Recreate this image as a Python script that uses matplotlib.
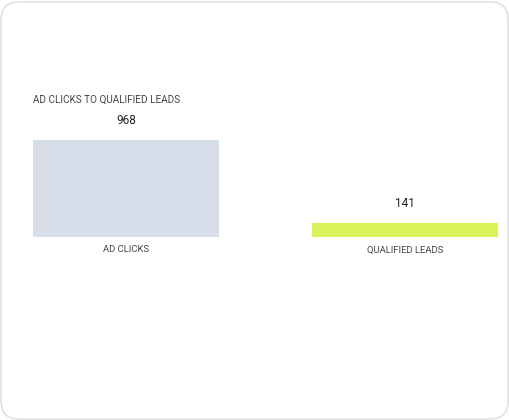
import matplotlib
matplotlib.use("Agg")
import matplotlib.pyplot as plt
from matplotlib.patches import FancyBboxPatch
from matplotlib import font_manager

categories = ["AD CLICKS", "QUALIFIED LEADS"]
values = [968, 141]
colors = ["#d8dee9", "#dbf35b"]
title = "AD CLICKS TO QUALIFIED LEADS"

names = {f.name for f in font_manager.fontManager.ttflist}
fam = "Roboto" if "Roboto" in names else "DejaVu Sans"

fig = plt.figure(figsize=(5.1, 4.2), dpi=100)
fig.patch.set_facecolor("white")
card = FancyBboxPatch((1/510, 1/420), 507/510, 417/420,
                      boxstyle="round,pad=0,rounding_size=0.035",
                      transform=fig.transFigure, facecolor="white",
                      edgecolor="#dcdcdc", linewidth=1.0, mutation_aspect=510/420,
                      zorder=-10)
fig.patches.append(card)

ax = fig.add_axes([33/510, (420-237)/420, 465/510, 97/420])
ax.set_facecolor("none")
ax.set_zorder(5)
x = list(range(len(categories)))
ax.bar(x, values, width=186/279, color=colors, edgecolor="none")
ax.set_xlim(-0.5*186/279, 1 + 0.5*186/279)
ax.set_ylim(0, max(values))
for s in ax.spines.values():
    s.set_visible(False)
ax.set_xticks([])
ax.set_yticks([])

for xi, v, c in zip(x, values, categories):
    ax.annotate(str(v), (xi, v), xytext=(0, 19), textcoords="offset pixels",
                ha="center", va="center", fontsize=8.5, family=fam, color="#222222",
                annotation_clip=False)
    ax.annotate(c, (xi, 0), xytext=(0, -13), textcoords="offset pixels",
                ha="center", va="center", fontsize=6.8, family=fam, color="#444444",
                annotation_clip=False)

fig.text(33/510, 1 - 100/420, title, ha="left", va="center", fontsize=7.2,
         family=fam, color="#444444", zorder=6)

fig.savefig("out.png", dpi=100)
